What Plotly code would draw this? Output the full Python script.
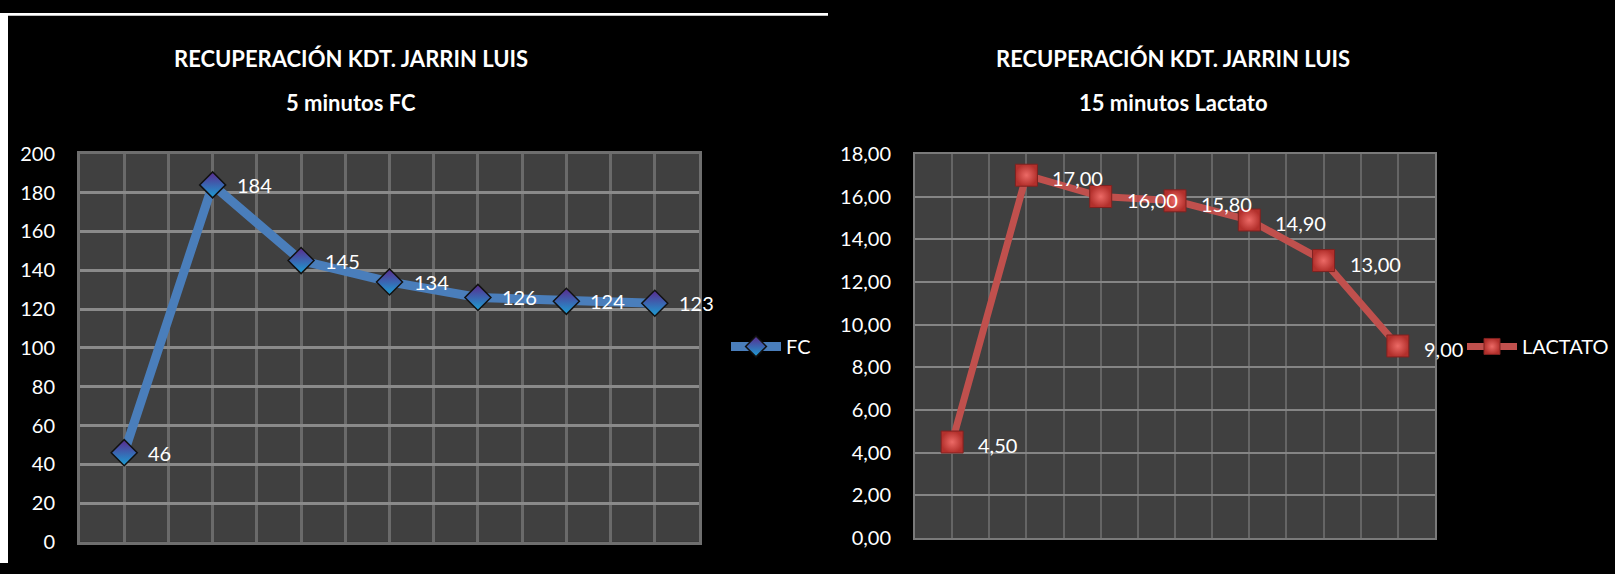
import plotly.graph_objects as go

W, H = 1615, 574

# Series values
fc_values = [46, 184, 145, 134, 126, 124, 123]
lactato_values = [4.50, 17.00, 16.00, 15.80, 14.90, 13.00, 9.00]

# Axis ticks
fc_ticks = [0, 20, 40, 60, 80, 100, 120, 140, 160, 180, 200]
lactato_ticks = [0, 2, 4, 6, 8, 10, 12, 14, 16, 18]

title_main = "RECUPERACIÓN KDT. JARRIN LUIS"
title_fc = "5 minutos FC"
title_lactato = "15 minutos Lactato"

FONT = "Lato, sans-serif"


def px_x(p):
    return p / W


def px_y(p):
    return (H - p) / H


fig = go.Figure()

x_fc = list(range(len(fc_values)))
x_lac = list(range(len(lactato_values)))

fig.add_trace(go.Scatter(
    x=x_fc, y=fc_values, name="FC", mode="lines+markers",
    line=dict(color="#4A7EBB", width=9),
    marker=dict(symbol="diamond", size=20, color="#5A2A8E",
                gradient=dict(type="vertical", color="#1C9FD4"),
                line=dict(color="#111111", width=1.5)),
    xaxis="x", yaxis="y", legend="legend",
))

fig.add_trace(go.Scatter(
    x=x_lac, y=lactato_values, name="LACTATO", mode="lines+markers",
    line=dict(color="#C0504D", width=7),
    marker=dict(symbol="square", size=22, color="#B3302C",
                gradient=dict(type="radial", color="#EC6A66"),
                line=dict(color="#7E2220", width=1)),
    xaxis="x2", yaxis="y2", legend="legend2",
))

annotations = []
for xi, v in zip(x_fc, fc_values):
    annotations.append(dict(x=xi, y=v, xref="x", yref="y", text=str(v),
                            showarrow=False, xanchor="left", yanchor="middle",
                            xshift=22, font=dict(color="white", size=20, family=FONT)))
for xi, v in zip(x_lac, lactato_values):
    annotations.append(dict(x=xi, y=v, xref="x2", yref="y2",
                            text=f"{v:.2f}".replace(".", ","),
                            showarrow=False, xanchor="left", yanchor="middle",
                            xshift=24, yshift=-3,
                            font=dict(color="white", size=20, family=FONT)))

for cx, line1, line2 in [(351, title_main, title_fc), (1173, title_main, title_lactato)]:
    annotations.append(dict(x=px_x(cx), y=px_y(48), xref="paper", yref="paper",
                            text=f"<b>{line1}</b>", showarrow=False,
                            xanchor="center", yanchor="middle",
                            font=dict(color="white", size=22, family=FONT)))
    annotations.append(dict(x=px_x(cx), y=px_y(93), xref="paper", yref="paper",
                            text=f"<b>{line2}</b>", showarrow=False,
                            xanchor="center", yanchor="middle",
                            font=dict(color="white", size=22, family=FONT)))

xaxis_common = dict(range=[-0.5, 6.5], tick0=-0.5, dtick=0.5, showticklabels=False,
                    ticks="", showgrid=True, zeroline=False, showline=True, mirror=True,
                    fixedrange=True)

fig.update_layout(
    width=W, height=H,
    margin=dict(l=0, r=0, t=0, b=0),
    paper_bgcolor="#000000",
    plot_bgcolor="#404040",
    separators=",.",
    showlegend=True,
    xaxis=dict(domain=[px_x(80), px_x(699)], gridcolor="#6a6a6a", gridwidth=3,
               linecolor="#6e6e6e", linewidth=3, anchor="y", **xaxis_common),
    yaxis=dict(domain=[px_y(552), px_y(147)], range=[0, 200], tickvals=fc_ticks,
               gridcolor="#8a8a8a", gridwidth=3, zeroline=False, showline=True,
               linecolor="#6e6e6e", linewidth=3, mirror=True, ticks="",
               ticklabelstandoff=18, anchor="x",
               tickfont=dict(color="white", size=20, family=FONT)),
    xaxis2=dict(domain=[px_x(915), px_x(1435)], gridcolor="#656565", gridwidth=2,
                linecolor="#7a7a7a", linewidth=2, anchor="y2", **xaxis_common),
    yaxis2=dict(domain=[px_y(548), px_y(147)], range=[0, 18], tickvals=lactato_ticks,
                tickformat=".2f", gridcolor="#858585", gridwidth=2, zeroline=False,
                showline=True, linecolor="#7a7a7a", linewidth=2, mirror=True, ticks="",
                ticklabelstandoff=18, anchor="x2",
                tickfont=dict(color="white", size=20, family=FONT)),
    legend=dict(x=px_x(726), y=px_y(348), xanchor="left", yanchor="middle",
                bgcolor="rgba(0,0,0,0)", itemwidth=50,
                font=dict(color="white", size=20, family=FONT)),
    legend2=dict(x=px_x(1462), y=px_y(348), xanchor="left", yanchor="middle",
                 bgcolor="rgba(0,0,0,0)", itemwidth=50,
                 font=dict(color="white", size=20, family=FONT)),
    annotations=annotations,
    shapes=[
        dict(type="rect", xref="paper", yref="paper", x0=0, x1=px_x(8), y0=0, y1=1,
             fillcolor="white", line=dict(width=0), layer="above"),
        dict(type="rect", xref="paper", yref="paper", x0=0, x1=px_x(828),
             y0=px_y(3), y1=1, fillcolor="white", line=dict(width=0), layer="above"),
    ],
)

fig.write_html("out.html", config={"displayModeBar": False})
